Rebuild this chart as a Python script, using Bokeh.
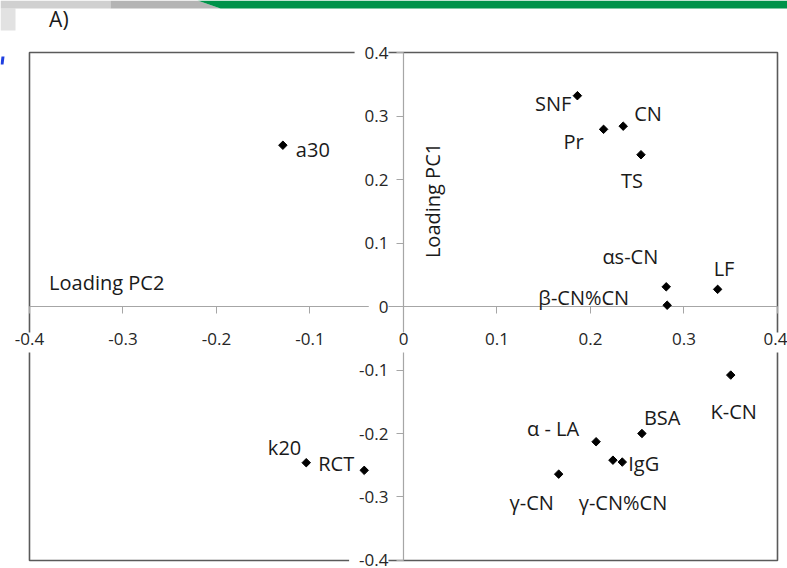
import numpy as np
from bokeh.plotting import figure
from bokeh.models import FixedTicker, ColumnDataSource, Label, PolyAnnotation
from bokeh.embed import file_html
from bokeh.resources import INLINE
from bokeh.core.properties import value

# ---- data (loadings) ----
names = ["SNF", "Pr", "CN", "TS", "αs-CN", "β-CN%CN", "LF", "K-CN",
         "BSA", "α - LA", "γ-CN%CN", "IgG", "γ-CN", "k20", "RCT", "a30"]
pc2 = [0.186, 0.214, 0.235, 0.254, 0.281, 0.282, 0.336, 0.350,
       0.255, 0.206, 0.224, 0.234, 0.166, -0.104, -0.042, -0.129]
pc1 = [0.332, 0.279, 0.284, 0.239, 0.031, 0.002, 0.027, -0.108,
       -0.200, -0.213, -0.242, -0.245, -0.264, -0.246, -0.258, 0.254]

x_ticks = [-0.4, -0.3, -0.2, -0.1, 0, 0.1, 0.2, 0.3, 0.4]
x_tick_labels = ["-0.4", "-0.3", "-0.2", "-0.1", "0", "0.1", "0.2", "0.3", "0.4"]
y_ticks = [-0.4, -0.3, -0.2, -0.1, 0, 0.1, 0.2, 0.3, 0.4]
y_tick_labels = ["-0.4", "-0.3", "-0.2", "-0.1", "0", "0.1", "0.2", "0.3", "0.4"]

# label placement (screen-pixel offsets from each marker, style only)
label_dx = [-6, -20, 11, -9, -8, -38, -4, 3, 2, -17, 10, 6, -27, -5, -10, 13]
label_dy = [8, 12, -13, 26, -30, -8, -21, 36, -16, -13, 42, 1, 28, -15, -7, 4]
label_align = ["right", "right", "left", "center", "right", "right", "left", "center",
               "left", "right", "center", "left", "center", "right", "right", "left"]

FONT = "Open Sans"
TICK_OUT = 7
X_STANDOFF = 19
Y_STANDOFF = 8
AXIS_GRAY = "#a6a6a6"

# the frame covers the whole canvas; the chart box spans the +-0.4 ticks
p = figure(width=787, height=568, x_range=(-0.4310, 0.4107), y_range=(-0.4126, 0.4819),
           output_backend="svg", toolbar_location=None,
           min_border_left=0, min_border_right=0, min_border_top=0, min_border_bottom=0)
p.background_fill_color = "white"
p.border_fill_color = "white"
p.outline_line_color = None
p.xgrid.visible = False
p.ygrid.visible = False

for ax, ticks, labels in ((p.xaxis, x_ticks, x_tick_labels), (p.yaxis, y_ticks, y_tick_labels)):
    ax.fixed_location = 0
    ax.bounds = (ticks[0], ticks[-1])
    ax.ticker = FixedTicker(ticks=ticks)
    ax.major_label_overrides = {t: l for t, l in zip(ticks, labels)}
    ax.minor_tick_line_color = None
    ax.major_tick_in = 0
    ax.major_tick_out = TICK_OUT
    ax.axis_line_color = None          # drawn below as glyphs so labels can mask it
    ax.major_tick_line_color = AXIS_GRAY
    ax.major_label_text_font = FONT
    ax.major_label_text_font_size = "17px"
    ax.major_label_text_color = "#262626"
p.xaxis.major_label_standoff = X_STANDOFF
p.yaxis.major_label_standoff = Y_STANDOFF

# chart box
p.quad(left=[x_ticks[0]], right=[x_ticks[-1]], bottom=[y_ticks[0]], top=[y_ticks[-1]],
       fill_color=None, line_color="#5a5a5a", line_width=1.6)
# axis lines through the origin
p.segment(x0=[x_ticks[0], 0], y0=[0, y_ticks[0]], x1=[x_ticks[-1], 0], y1=[0, y_ticks[-1]],
          line_color=AXIS_GRAY, line_width=1.2)

# white masks behind the tick labels (as Excel draws them)
p.text(x=x_ticks, y=[0] * len(x_ticks), text=x_tick_labels,
       y_offset=TICK_OUT + X_STANDOFF, text_align="center", text_baseline="top",
       text_font=value(FONT), text_font_size="17px", text_color="white",
       background_fill_color="white", padding=4)
p.text(x=[0] * len(y_ticks), y=y_ticks, text=y_tick_labels,
       x_offset=-(TICK_OUT + Y_STANDOFF), text_align="right", text_baseline="middle",
       text_font=value(FONT), text_font_size="17px", text_color="white",
       background_fill_color="white", padding=5)

src = ColumnDataSource(dict(x=pc2, y=pc1, name=names, dx=label_dx, dy=label_dy, align=label_align))
p.scatter("x", "y", source=src, marker="square", angle=np.pi / 4, size=6,
          fill_color="black", line_color="black")
p.text("x", "y", text="name", source=src, x_offset="dx", y_offset="dy",
       text_align="align", text_baseline="middle", text_font=value(FONT),
       text_font_size="20px", text_color="#1a1a1a")

p.add_layout(Label(x=-0.379, y=0.038, text="Loading PC2", text_font=FONT,
                   text_font_size="20px", text_color="#1a1a1a", text_baseline="middle"))
p.add_layout(Label(x=0.031, y=0.167, text="Loading PC1", angle=np.pi / 2, text_font=FONT,
                   text_font_size="20px", text_color="#1a1a1a", text_baseline="middle",
                   text_align="center"))
p.add_layout(Label(x=-0.379, y=0.452, text="A)", text_font=FONT,
                   text_font_size="21px", text_color="#1a1a1a", text_baseline="middle"))

# slide decoration at the top
p.add_layout(PolyAnnotation(xs=[0, 15, 15, 0], ys=[8, 8, 30, 30],
                            xs_units="canvas", ys_units="canvas",
                            fill_color="#e2e2e2", fill_alpha=1.0, line_color=None))
p.add_layout(PolyAnnotation(xs=[0, 110, 110, 0], ys=[0, 0, 8, 8],
                            xs_units="canvas", ys_units="canvas",
                            fill_color="#d0d0d0", fill_alpha=1.0, line_color=None))
p.add_layout(PolyAnnotation(xs=[110, 197, 220, 110], ys=[0, 0, 8, 8],
                            xs_units="canvas", ys_units="canvas",
                            fill_color="#b4b4b4", fill_alpha=1.0, line_color=None))
p.add_layout(PolyAnnotation(xs=[197, 787, 787, 220], ys=[0, 0, 8, 8],
                            xs_units="canvas", ys_units="canvas",
                            fill_color="#00924A", fill_alpha=1.0, line_color=None))
p.add_layout(PolyAnnotation(xs=[1, 4, 3, 0], ys=[56, 56, 64, 64],
                            xs_units="canvas", ys_units="canvas",
                            fill_color="#1f3fe0", fill_alpha=1.0, line_color=None))

open("out.html", "w").write(file_html(p, INLINE))
